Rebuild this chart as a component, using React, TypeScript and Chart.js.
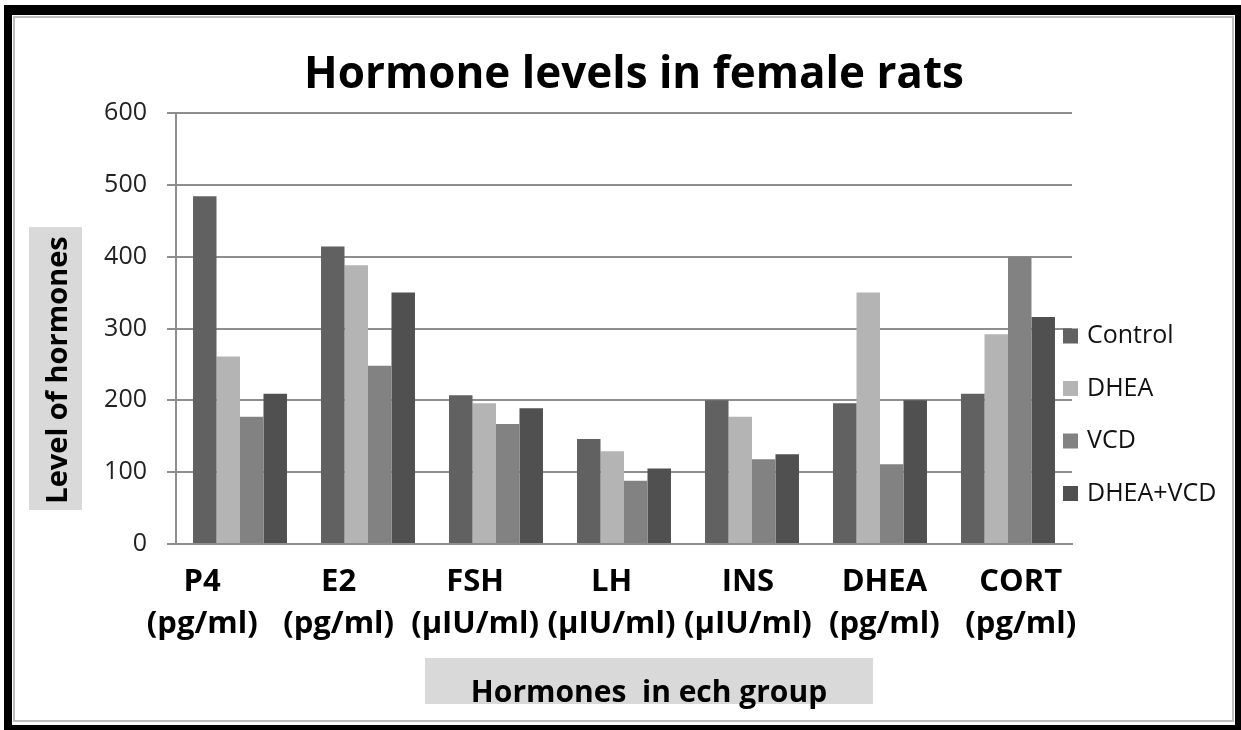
import React, { useEffect, useRef } from "react";
import { Chart, registerables } from "chart.js";

Chart.register(...registerables);

const categories: string[][] = [
  ["P4", "(pg/ml)"],
  ["E2", "(pg/ml)"],
  ["FSH", "(µIU/ml)"],
  ["LH", "(µIU/ml)"],
  ["INS", "(µIU/ml)"],
  ["DHEA", "(pg/ml)"],
  ["CORT", "(pg/ml)"],
];

const seriesNames = ["Control", "DHEA", "VCD", "DHEA+VCD"];
const control = [484, 414, 207, 146, 200, 196, 209];
const dhea = [261, 388, 196, 129, 177, 350, 292];
const vcd = [177, 248, 167, 88, 118, 111, 400];
const dheaVcd = [209, 350, 189, 105, 125, 200, 316];
const seriesColors = ["#616161", "#b4b4b4", "#828282", "#505050"];

const yTicks = [0, 100, 200, 300, 400, 500, 600];

const chartTitle = "Hormone levels in female rats";
const yTitle = "Level of hormones";
const xTitle = "Hormones  in ech group";

const FONT = "'Open Sans', 'DejaVu Sans', sans-serif";

const decorations = {
  id: "decorations",
  afterLayout(chart: any) {
    // the category labels in the original are spread a little wider than the bars
    const s = chart.scales.xl;
    if (s) {
      s.left = 134;
      s.right = 1089;
      s.width = s.right - s.left;
      s.configure();
    }
  },
  beforeDraw(chart: any) {
    const { ctx } = chart;
    ctx.save();
    ctx.fillStyle = "#ffffff";
    ctx.fillRect(0, 0, chart.width, chart.height);
    ctx.fillStyle = "#d9d9d9";
    ctx.fillRect(29, 227, 53, 283);
    ctx.fillRect(425, 658, 448, 46);
    ctx.restore();
  },
  afterDraw(chart: any) {
    const { ctx } = chart;
    ctx.save();
    ctx.fillStyle = "#000000";
    ctx.font = `bold 44px ${FONT}`;
    ctx.textAlign = "center";
    ctx.textBaseline = "alphabetic";
    ctx.fillText(chartTitle, 634, 88);
    ctx.font = `bold 30px ${FONT}`;
    ctx.fillText(xTitle, 649, 702);
    ctx.save();
    ctx.translate(67, 370);
    ctx.rotate(-Math.PI / 2);
    ctx.font = `bold 29px ${FONT}`;
    ctx.fillText(yTitle, 0, 0);
    ctx.restore();
    const ds = chart.data.datasets;
    ctx.font = `25px ${FONT}`;
    ctx.textAlign = "left";
    ctx.textBaseline = "middle";
    ds.forEach((d: any, i: number) => {
      const cy = 336 + i * 52.5;
      ctx.fillStyle = d.backgroundColor;
      ctx.fillRect(1063, cy - 7.5, 15, 15);
      ctx.fillStyle = "#111111";
      ctx.fillText(d.label, 1087, cy);
    });
    ctx.restore();
  },
};

export default function App() {
  const ref = useRef<HTMLCanvasElement | null>(null);

  useEffect(() => {
    if (!ref.current) return;
    const series = [control, dhea, vcd, dheaVcd];
    const chart = new Chart(ref.current, {
      type: "bar",
      data: {
        labels: categories,
        datasets: series.map((vals, i) => ({
          label: seriesNames[i],
          data: vals,
          backgroundColor: seriesColors[i],
          borderWidth: 0,
          categoryPercentage: 0.734,
          barPercentage: 1,
        })),
      },
      options: {
        responsive: false,
        animation: false,
        devicePixelRatio: 1,
        layout: { padding: { left: 0, top: 113, right: 169, bottom: 0 } },
        plugins: {
          legend: { display: false },
          title: { display: false },
          tooltip: { enabled: false },
        },
        scales: {
          x: {
            weight: 0,
            grid: { display: false, drawTicks: false },
            border: { display: true, color: "#8e8e8e", width: 2 },
            ticks: { display: false },
            afterFit: (s: any) => {
              s.height = 0;
            },
          },
          xl: {
            type: "category",
            position: "bottom",
            weight: 1,
            grid: { display: false, drawTicks: false },
            border: { display: false },
            ticks: {
              color: "#000000",
              font: { family: FONT, size: 31, weight: "bold", lineHeight: 1.35 },
              padding: 17,
              maxRotation: 0,
              minRotation: 0,
              autoSkip: false,
            },
            afterFit: (s: any) => {
              s.height = 186;
            },
          },
          y: {
            min: 0,
            max: 600,
            afterBuildTicks: (s: any) => {
              s.ticks = yTicks.map((v) => ({ value: v }));
            },
            grid: { color: "#8e8e8e", lineWidth: 2, tickLength: 9, drawTicks: true },
            border: { display: true, color: "#8e8e8e", width: 2 },
            ticks: {
              color: "#222222",
              font: { family: FONT, size: 25 },
              padding: 20,
            },
            afterFit: (s: any) => {
              s.width = 176;
            },
          },
        },
      },
      plugins: [decorations],
    });
    return () => chart.destroy();
  }, []);

  return (
    <div style={{ position: "fixed", left: 0, top: 0, width: 1241, height: 730, background: "#fff", overflow: "hidden" }}>
      <canvas ref={ref} width={1241} height={730} style={{ position: "absolute", left: 0, top: 0, width: 1241, height: 730 }} />
      <div
        style={{
          position: "absolute",
          left: 4,
          top: 5,
          width: 1241 - 4 - 8 - 6,
          height: 730 - 5 - 10 - 5,
          borderStyle: "solid",
          borderColor: "#000",
          borderWidth: "10px 6px 5px 8px",
          pointerEvents: "none",
        }}
      />
      <div
        style={{
          position: "absolute",
          left: 13,
          top: 16,
          width: 1234 - 13 - 4,
          height: 722 - 16 - 4,
          border: "2px solid #bdbdbd",
          pointerEvents: "none",
        }}
      />
    </div>
  );
}
